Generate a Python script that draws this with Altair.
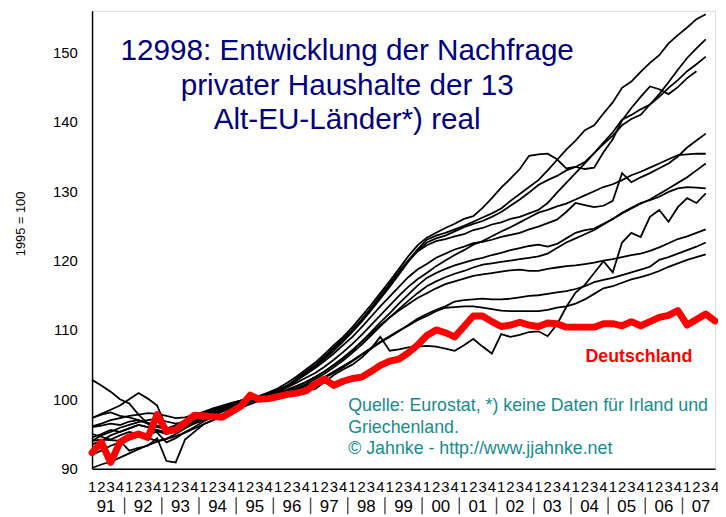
import altair as alt
import pandas as pd

quarters = list(range(68))
quarter_labels = ["1", "2", "3", "4"] * 17
years = ["91", "92", "93", "94", "95", "96", "97", "98", "99",
         "00", "01", "02", "03", "04", "05", "06", "07"]
y_ticks = [90, 100, 110, 120, 130, 140, 150]

title_text = "12998: Entwicklung der Nachfrage\nprivater Haushalte der 13\nAlt-EU-Länder*) real"
source_text = "Quelle: Eurostat, *) keine Daten für Irland und\nGriechenland.\n© Jahnke - http://www.jjahnke.net"
de_label = "Deutschland"

# Deutschland, 1991Q1 .. 2007Q4
deutschland = [
    92.3, 93.8, 90.9, 93.8,  94.6, 95.0, 94.5, 97.8,  95.4, 95.6, 96.6, 97.7,
    97.6, 97.5, 97.4, 98.2,  99.0, 100.6, 100.0, 100.1,  100.4, 100.7, 100.9, 101.2,
    102.2, 102.9, 102.0, 102.6,  103.0, 103.2, 104.0, 104.9,  105.5, 105.8, 106.7, 107.8,
    109.2, 110.0, 109.6, 109.0,  110.5, 112.0, 112.0, 111.2,  110.5, 110.7, 111.1, 110.7,
    110.5, 111.0, 110.9, 110.4,  110.4, 110.4, 110.4, 110.9,  110.9, 110.6, 111.2, 110.6,
    111.2, 111.8, 112.1, 112.8,  110.7, 111.5, 112.3, 111.3,
]

l1 = [96.0, 96.2, 96.5, 96.3, 96.8, 97.0, 96.6, 96.2, 95.8, 96.2, 96.8, 97.4,
      98.0, 98.5, 99.0, 99.4, 99.8, 100.0, 100.2, 100.6, 101.3, 102.0, 103.0, 104.0,
      105.0, 106.2, 107.5, 108.7, 110.0, 111.5, 113.0, 114.8, 116.5, 118.3, 120.0, 121.6,
      123.0, 123.6, 124.0, 124.5, 125.0, 125.6, 126.2, 126.8, 127.5, 128.6, 129.6, 130.6,
      131.6, 133.0, 134.5, 136.0, 137.3, 138.8, 139.5, 141.2, 142.8, 144.9, 145.8, 147.2,
      148.5, 149.6, 151.3, 152.5, 153.6, 154.8, 155.5]
l2 = [94.5, 95.0, 95.6, 95.3, 95.8, 96.3, 96.0, 95.6, 95.2, 95.8, 96.5, 97.2,
      97.8, 98.4, 98.8, 99.3, 99.7, 100.0, 100.3, 100.5, 101.0, 101.8, 102.7, 103.6,
      104.7, 105.8, 107.0, 108.3, 109.7, 111.2, 112.8, 114.5, 116.2, 118.0, 119.8, 121.4,
      122.6, 123.2, 123.6, 124.2, 124.8, 125.3, 125.7, 126.3, 127.0, 127.9, 128.8, 129.8,
      130.9, 131.6, 132.2, 133.0, 133.5, 134.2, 135.5, 136.8, 138.0, 139.5, 140.4, 141.0,
      142.5, 144.0, 145.7, 147.5, 149.2, 150.6, 151.9]
l3 = [95.0, 94.6, 94.2, 94.8, 95.3, 95.0, 94.4, 94.0, 94.3, 95.0, 95.8, 96.6,
      97.3, 98.0, 98.6, 99.1, 99.5, 99.9, 100.2, 100.6, 101.2, 101.9, 102.8, 103.8,
      104.8, 106.0, 107.3, 108.6, 110.0, 111.5, 113.2, 114.9, 116.6, 118.4, 120.0, 121.3,
      122.2, 122.8, 123.1, 123.5, 123.8, 124.4, 124.7, 125.2, 125.5, 126.0, 126.3, 126.8,
      127.3, 128.3, 129.8, 131.2, 132.6, 134.0, 135.5, 137.0, 138.5, 140.3, 141.0, 141.8,
      142.5, 143.6, 144.9, 146.0, 147.3, 148.3, 149.4]
l4 = [97.3, 97.8, 98.1, 97.6, 97.4, 97.0, 96.5, 96.0, 95.7, 96.3, 97.0, 97.6,
      98.1, 98.6, 99.0, 99.4, 99.8, 100.1, 100.5, 101.0, 101.6, 102.4, 103.3, 104.3,
      105.3, 106.5, 107.8, 109.0, 110.4, 112.0, 113.6, 115.3, 117.0, 118.8, 120.6, 122.2,
      123.3, 124.0, 124.7, 125.3, 126.0, 126.4, 127.6, 129.0, 130.5, 131.8, 133.2, 135.1,
      135.3, 135.4, 134.6, 133.3, 133.5, 133.2, 133.4, 135.6, 137.5, 140.2, 142.0, 143.6,
      145.1, 144.7, 144.0, 145.0, 146.3, 147.3]
l5 = [93.5, 94.0, 94.8, 95.3, 95.8, 96.3, 96.0, 95.4, 95.0, 95.5, 96.2, 96.8,
      97.5, 98.1, 98.7, 99.2, 99.6, 100.0, 100.4, 100.9, 101.4, 102.0, 102.8, 103.6,
      104.5, 105.5, 106.6, 107.8, 109.0, 110.4, 111.9, 113.4, 114.8, 116.2, 117.6, 118.7,
      119.5, 120.4, 121.0, 121.6, 122.0, 122.5, 122.7, 123.0, 123.4, 123.7, 124.0, 124.5,
      124.9, 125.4, 125.9, 127.0, 128.3, 128.0, 127.7, 127.9, 128.6, 132.6, 131.3, 132.0,
      132.6, 133.3, 134.0, 135.0, 136.3, 137.3, 138.3]
l6 = [97.3, 97.9, 98.5, 99.1, 100.0, 100.9, 100.1, 99.1, 95.9, 95.5, 95.9, 96.5,
      97.0, 97.6, 98.2, 98.8, 99.3, 99.8, 100.3, 100.7, 101.2, 101.7, 102.4, 103.1,
      103.8, 104.7, 105.7, 106.8, 108.0, 109.3, 110.7, 112.1, 113.5, 114.9, 116.2, 117.3,
      118.2, 119.2, 120.0, 120.8, 121.5, 122.3, 122.8, 123.5, 124.2, 124.8, 125.5, 126.2,
      126.9, 127.3, 127.8, 128.2, 128.8, 129.4, 130.0, 130.6, 131.0, 131.6, 132.3, 132.8,
      133.4, 134.0, 134.6, 135.2, 135.3, 135.4, 135.4]
l7 = [94.0, 94.2, 94.1, 94.0, 92.6, 93.0, 93.3, 94.4, 91.1, 90.9, 94.2, 95.3,
      96.4, 97.0, 97.8, 98.5, 99.1, 99.6, 100.0, 100.4, 100.8, 101.3, 101.9, 102.5,
      103.2, 104.0, 104.9, 105.9, 107.0, 108.3, 109.7, 111.1, 112.4, 113.8, 115.1, 116.4,
      117.5, 118.2, 118.8, 119.3, 119.7, 120.1, 120.4, 120.8, 121.1, 121.5, 121.8, 122.1,
      122.3, 122.0, 122.4, 123.2, 124.0, 124.4, 124.6, 125.3, 126.0, 126.8, 127.5, 128.2,
      128.8, 129.6, 130.4, 131.2, 132.0, 133.0, 134.0]
l8 = [96.1, 96.5, 97.0, 97.3, 97.6, 97.8, 98.0, 97.9, 97.6, 97.3, 97.4, 97.8,
      98.2, 98.7, 99.1, 99.5, 99.8, 100.1, 100.2, 100.4, 100.7, 101.1, 101.6, 102.2,
      102.9, 103.7, 104.6, 105.6, 106.7, 107.9, 109.2, 110.5, 111.8, 113.0, 114.2, 115.3,
      116.3, 117.0, 117.6, 118.1, 118.5, 119.0, 119.4, 119.6, 119.8, 120.0, 120.2, 120.4,
      120.6, 121.0, 121.8, 122.6, 123.2, 123.8, 124.4, 125.2, 126.0, 126.9, 127.6, 128.3,
      128.7, 129.2, 129.9, 130.4, 130.6, 130.5, 130.4]
l9 = [102.8, 102.0, 101.1, 100.0, 99.4, 97.8, 96.5, 95.2, 93.8, 94.4, 95.3, 96.0,
      96.8, 97.5, 98.3, 98.9, 99.5, 100.0, 100.3, 100.6, 100.9, 101.1, 101.0, 101.2,
      101.5, 102.5, 103.5, 104.3, 105.0, 106.0, 107.3, 109.0, 107.0, 107.2, 107.5, 107.6,
      107.7, 107.6, 107.3, 107.0, 107.8, 108.7, 107.6, 106.6, 109.4, 109.0, 109.3, 109.7,
      109.8, 109.1, 110.8, 113.3, 115.4, 116.5, 118.2, 119.9, 118.3, 122.6, 124.0, 123.4,
      126.3, 127.3, 125.6, 127.7, 129.0, 128.3, 129.7]
l10 = [94.0, 94.8, 95.3, 95.9, 96.3, 96.7, 97.0, 97.2, 96.8, 96.5, 96.7, 97.2,
       97.7, 98.2, 98.7, 99.2, 99.6, 100.0, 100.3, 100.6, 101.0, 101.4, 101.9, 102.5,
       103.2, 104.0, 105.0, 106.0, 107.1, 108.3, 109.5, 110.7, 111.8, 112.8, 113.7, 114.6,
       115.3, 116.0, 116.6, 117.0, 117.4, 117.8, 118.0, 118.2, 118.4, 118.6, 118.7, 118.5,
       118.5, 118.8, 119.0, 119.2, 119.3, 119.5, 119.7, 120.0, 120.2, 120.5, 120.8, 121.0,
       121.4, 121.9, 122.5, 123.1, 123.5, 124.0, 124.5]
l11 = [92.0, 92.6, 93.3, 93.8, 94.2, 94.6, 95.0, 95.3, 95.5, 95.8, 96.3, 96.9,
       97.4, 97.9, 98.4, 98.9, 99.4, 99.8, 100.2, 100.5, 100.8, 101.1, 101.5, 102.0,
       102.5, 103.1, 103.8, 104.6, 105.5, 106.4, 107.3, 108.2, 109.0, 109.8, 110.7, 111.6,
       112.3, 112.9, 113.4, 114.1, 114.3, 114.4, 114.5, 114.4, 114.4, 114.5, 114.7, 114.9,
       115.0, 115.2, 115.4, 115.6, 115.9, 116.3, 116.9, 117.2, 117.5, 117.9, 118.3, 118.7,
       119.1, 120.1, 120.5, 121.0, 121.5, 122.0, 122.6]
l12 = [90.1, 90.6, 91.0, 91.6, 92.2, 92.8, 93.4, 93.9, 94.3, 94.7, 95.2, 95.8,
       96.4, 97.0, 97.6, 98.2, 98.8, 99.3, 99.8, 100.2, 100.6, 101.0, 101.4, 101.9,
       102.5, 103.2, 104.0, 104.8, 105.6, 106.5, 107.4, 108.3, 109.1, 109.9, 110.6, 111.4,
       112.0, 112.7, 113.2, 113.3, 113.4, 113.4, 113.2, 113.0, 112.8, 112.7, 112.7, 112.7,
       112.7, 112.9, 113.2, 113.4, 113.8, 114.4, 115.2, 116.0, 116.3, 116.8, 117.3, 117.6,
       118.0, 118.5, 119.1, 119.6, 120.1, 120.5, 120.9]

black_series = {"L1": l1, "L2": l2, "L3": l3, "L4": l4, "L5": l5, "L6": l6,
                "L7": l7, "L8": l8, "L9": l9, "L10": l10, "L11": l11, "L12": l12}

rows = []
for name, vals in black_series.items():
    for i, v in enumerate(vals):
        rows.append({"q": quarters[i], "value": v, "land": name})
df_black = pd.DataFrame(rows)
df_de = pd.DataFrame({"q": quarters, "value": deutschland})
df_quarters = pd.DataFrame({"q": quarters, "label": quarter_labels})
df_years = pd.DataFrame({"q": [4 * k + 1.5 for k in range(len(years))], "label": years})
df_sep = pd.DataFrame({"q": [4 * k - 0.5 for k in range(1, len(years))]})

FONT = "Liberation Sans"

x_enc = alt.X(
    "q:Q",
    scale=alt.Scale(domain=[0, 67], nice=False, zero=False),
    axis=alt.Axis(labels=False, ticks=False, grid=False, title=None,
                  domainColor="black", domainWidth=1.5),
)
y_enc = alt.Y(
    "value:Q",
    scale=alt.Scale(domain=[90, 156], nice=False, zero=False),
    axis=alt.Axis(values=y_ticks, ticks=False, grid=False, title="1995 = 100",
                  titleFontSize=13, titleFontWeight="normal", titleX=-72, titleY=215,
                  titleAlign="center", titleBaseline="middle", titleColor="black",
                  titleFont=FONT, labelFontSize=15, labelPadding=15,
                  labelColor="black", labelFont=FONT,
                  domainColor="black", domainWidth=1.5),
)

black_lines = alt.Chart(df_black).mark_line(color="black", strokeWidth=1.8).encode(
    x=x_enc, y=y_enc, detail="land:N")

red_line = alt.Chart(df_de).mark_line(color="#ff0000", strokeWidth=7,
                                      strokeJoin="round", strokeCap="round").encode(
    x="q:Q", y="value:Q")

quarter_text = alt.Chart(df_quarters).mark_text(fontSize=15, font=FONT, color="black",
                                                baseline="middle", align="center").encode(
    x="q:Q", y=alt.value(482), text="label:N")

year_text = alt.Chart(df_years).mark_text(fontSize=17, font=FONT, color="black",
                                          baseline="alphabetic", align="center").encode(
    x="q:Q", y=alt.value(507), text="label:N")

sep_rules = alt.Chart(df_sep).mark_rule(color="#555555", strokeWidth=1.5).encode(
    x="q:Q", y=alt.value(492), y2=alt.value(509))

title_mark = alt.Chart(pd.DataFrame({"t": [title_text]})).mark_text(
    fontSize=30, font=FONT, color="#000080", align="center", baseline="alphabetic",
    lineBreak="\n", lineHeight=35).encode(
    x=alt.value(258), y=alt.value(50), text="t:N")

source_mark = alt.Chart(pd.DataFrame({"t": [source_text]})).mark_text(
    fontSize=18, font=FONT, color="#168c8c", align="left", baseline="alphabetic",
    lineBreak="\n", lineHeight=21.5).encode(
    x=alt.value(259), y=alt.value(405), text="t:N")

de_mark = alt.Chart(pd.DataFrame({"t": [de_label]})).mark_text(
    fontSize=18, font=FONT, fontWeight="bold", color="#ff0000", align="center",
    baseline="alphabetic").encode(
    x=alt.value(553), y=alt.value(355), text="t:N")

chart = alt.layer(
    black_lines, red_line, quarter_text, year_text, sep_rules,
    title_mark, source_mark, de_mark
).properties(
    width=630, height=463,
    autosize=alt.AutoSizeParams(type="none"),
    padding={"left": 85, "top": 0, "right": 3, "bottom": 46},
).configure_view(strokeWidth=0).configure(font=FONT, background="white")

chart.save("out.html", embed_options={"renderer": "svg", "actions": False})
